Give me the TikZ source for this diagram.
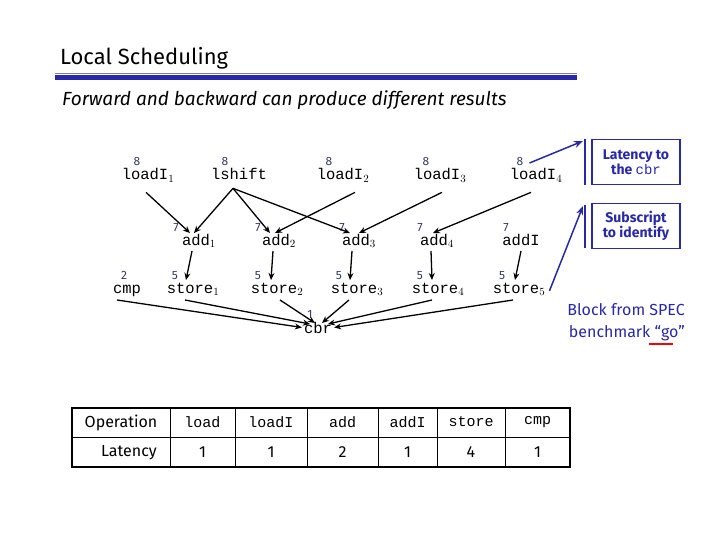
\documentclass[tikz,border=0pt]{standalone}
\usepackage{fontspec}
\setmainfont{Fira Sans}
\setmonofont{Liberation Mono}
\usetikzlibrary{arrows.meta}
\definecolor{myblue}{RGB}{40,40,170}
\definecolor{numc}{RGB}{50,60,100}
\begin{document}
\begin{tikzpicture}[x=1pt,y=-1pt,
  op/.style={font=\ttfamily\fontsize{15.5}{17}\selectfont,inner sep=0pt,anchor=base},
  lat/.style={font=\fontsize{12}{13}\selectfont,text=numc,inner sep=0pt,anchor=base},
  edge/.style={-{Stealth[length=7pt,width=6pt]},line width=1.3pt},
  bedge/.style={-{Stealth[length=9pt,width=7pt]},line width=1.5pt,draw=myblue},
  bluebox/.style={draw=myblue,line width=1.8pt,text=myblue,align=center,font=\bfseries\fontsize{14}{15}\selectfont,minimum width=88pt,minimum height=45pt,inner sep=1pt},
  cell/.style={font=\ttfamily\fontsize{15}{17}\selectfont,anchor=center,inner sep=0pt},
  hcell/.style={font=\fontsize{16}{18}\selectfont,anchor=center,inner sep=0pt}]
\useasboundingbox (0,0) rectangle (720,540);
\node[anchor=base west,font=\fontsize{22}{24}\selectfont,inner sep=0pt] (title) at (60,65) {Local Scheduling};
\draw[line width=0.6pt,gray] (55,73) -- (577,73);
\draw[line width=5pt,myblue] (55,78) -- (577,78);
\node[anchor=base west,font=\itshape\fontsize{19}{21}\selectfont,inner sep=0pt] (sub) at (62,106) {Forward and backward can produce different results};
% top row
\node[op] (l1) at (148,180) {loadI$_1$};
\node[op] (ls) at (239,180) {lshift};
\node[op] (l2) at (343,180) {loadI$_2$};
\node[op] (l3) at (440,180) {loadI$_3$};
\node[op] (l4) at (536,180) {loadI$_4$};
\node[lat] (n1) at (137,166) {8};
\node[lat] (n2) at (225,166) {8};
\node[lat] (n3) at (329,166) {8};
\node[lat] (n4) at (426,166) {8};
\node[lat] (n5) at (520,166) {8};
% add row
\node[op] (a1) at (199,245) {add$_1$};
\node[op] (a2) at (279,245) {add$_2$};
\node[op] (a3) at (359,245) {add$_3$};
\node[op] (a4) at (437,245) {add$_4$};
\node[op] (aI) at (521,245) {addI};
\node[lat] (m1) at (176,231) {7};
\node[lat] (m2) at (258,231) {7};
\node[lat] (m3) at (342,231) {7};
\node[lat] (m4) at (420,231) {7};
\node[lat] (m5) at (506,231) {7};
% store row
\node[op] (cm) at (127,293) {cmp};
\node[op] (s1) at (193,293) {store$_1$};
\node[op] (s2) at (277,293) {store$_2$};
\node[op] (s3) at (357,293) {store$_3$};
\node[op] (s4) at (438,293) {store$_4$};
\node[op] (s5) at (519,293) {store$_5$};
\node[lat] (k0) at (124,279) {2};
\node[lat] (k1) at (175,279) {5};
\node[lat] (k2) at (258,279) {5};
\node[lat] (k3) at (339,279) {5};
\node[lat] (k4) at (420,279) {5};
\node[lat] (k5) at (502,279) {5};
\node[op] (cbr) at (318,333) {cbr};
\node[lat] (c1) at (310,318) {1};
% edges
\coordinate (x1) at ([shift={(-2,10)}]l1.south);
\coordinate (x2) at ([shift={(-6,8)}]ls.south);
\draw[edge] (x1) -- ([shift={(-9,-12)}]a1.base);
\draw[edge] (x2) -- ([shift={(-5,-12)}]a1.base);
\draw[edge] (x2) -- ([shift={(-9,-12)}]a2.base);
\draw[edge] (x2) -- ([shift={(-9,-12)}]a3.base);
\draw[edge] ([shift={(12,10)}]l2.south) -- ([shift={(-4,-12)}]a2.base);
\draw[edge] ([shift={(2,10)}]l3.south) -- ([shift={(0,-12)}]a3.base);
\draw[edge] ([shift={(-5,10)}]l4.south) -- ([shift={(-4,-12)}]a4.base);
\draw[edge] ([shift={(-7,6)}]a1.base) -- ([shift={(-7,-13)}]s1.base);
\draw[edge] ([shift={(-6,6)}]a2.base) -- ([shift={(-6,-13)}]s2.base);
\draw[edge] ([shift={(-7,6)}]a3.base) -- ([shift={(-7,-13)}]s3.base);
\draw[edge] ([shift={(-6,6)}]a4.base) -- ([shift={(-6,-13)}]s4.base);
\draw[edge] ([shift={(0,6)}]aI.base) -- ([shift={(-4,-13)}]s5.base);
\draw[edge] ([shift={(-10,7)}]cm.base) -- ([shift={(-2,0)}]cbr.west);
\draw[edge] ([shift={(-8,7)}]s1.base) -- ([shift={(-8,-9)}]cbr.base);
\draw[edge] ([shift={(3,7)}]s2.base) -- ([shift={(-3,-10)}]cbr.base);
\draw[edge] ([shift={(-8,7)}]s3.base) -- ([shift={(4,-10)}]cbr.base);
\draw[edge] ([shift={(-6,7)}]s4.base) -- ([shift={(10,-9)}]cbr.base);
\draw[edge] ([shift={(-6,7)}]s5.base) -- ([shift={(2,0)}]cbr.east);
% blue boxes
\node[bluebox] (b1) at (636,162) {Latency to\\the \texttt{\mdseries cbr}};
\node[bluebox] (b2) at (636,226) {Subscript\\to identify};
\draw[myblue,line width=1.8pt] (585,139) -- (585,185);
\draw[myblue,line width=1.8pt] (585,205) -- (585,248);
\coordinate (t1) at (583,141);
\coordinate (t2) at (583,206);
\draw[bedge] ([xshift=6pt,yshift=-1pt]n5.east) -- (t1);
\draw[bedge] ([xshift=4pt,yshift=-2pt]s5.east) -- (t2);
\node[anchor=base east,text=myblue,font=\fontsize{16}{18}\selectfont,inner sep=0pt] (blk1) at (685,315) {Block from SPEC};
\node[anchor=base east,text=myblue,font=\fontsize{16}{18}\selectfont,inner sep=0pt] (blk2) at (685,337) {benchmark ``go''};
\draw[red,line width=1.5pt] (649,344) -- (673,344);
% table
\draw[line width=1.8pt] (72,408) rectangle (570,467);
\draw[line width=1pt] (72,437) -- (570,437);
\foreach \x in {170,235,307,378,437,505} \draw[line width=1pt] (\x,408) -- (\x,467);
\node[hcell] (h1) at (121,423) {Operation};
\node[hcell] (h2) at (129,453) {Latency};
\node[cell] (o1) at (202.5,422) {load};
\node[cell] (o2) at (271,422) {loadI};
\node[cell] (o3) at (342.5,422) {add};
\node[cell] (o4) at (407.5,422) {addI};
\node[cell] (o5) at (471,422) {store};
\node[cell] (o6) at (537.5,422) {cmp};
\node[hcell] (v1) at (202.5,452) {1};
\node[hcell] (v2) at (271,452) {1};
\node[hcell] (v3) at (342.5,452) {2};
\node[hcell] (v4) at (407.5,452) {1};
\node[hcell] (v5) at (471,452) {4};
\node[hcell] (v6) at (537.5,452) {1};
\end{tikzpicture}
\end{document}
